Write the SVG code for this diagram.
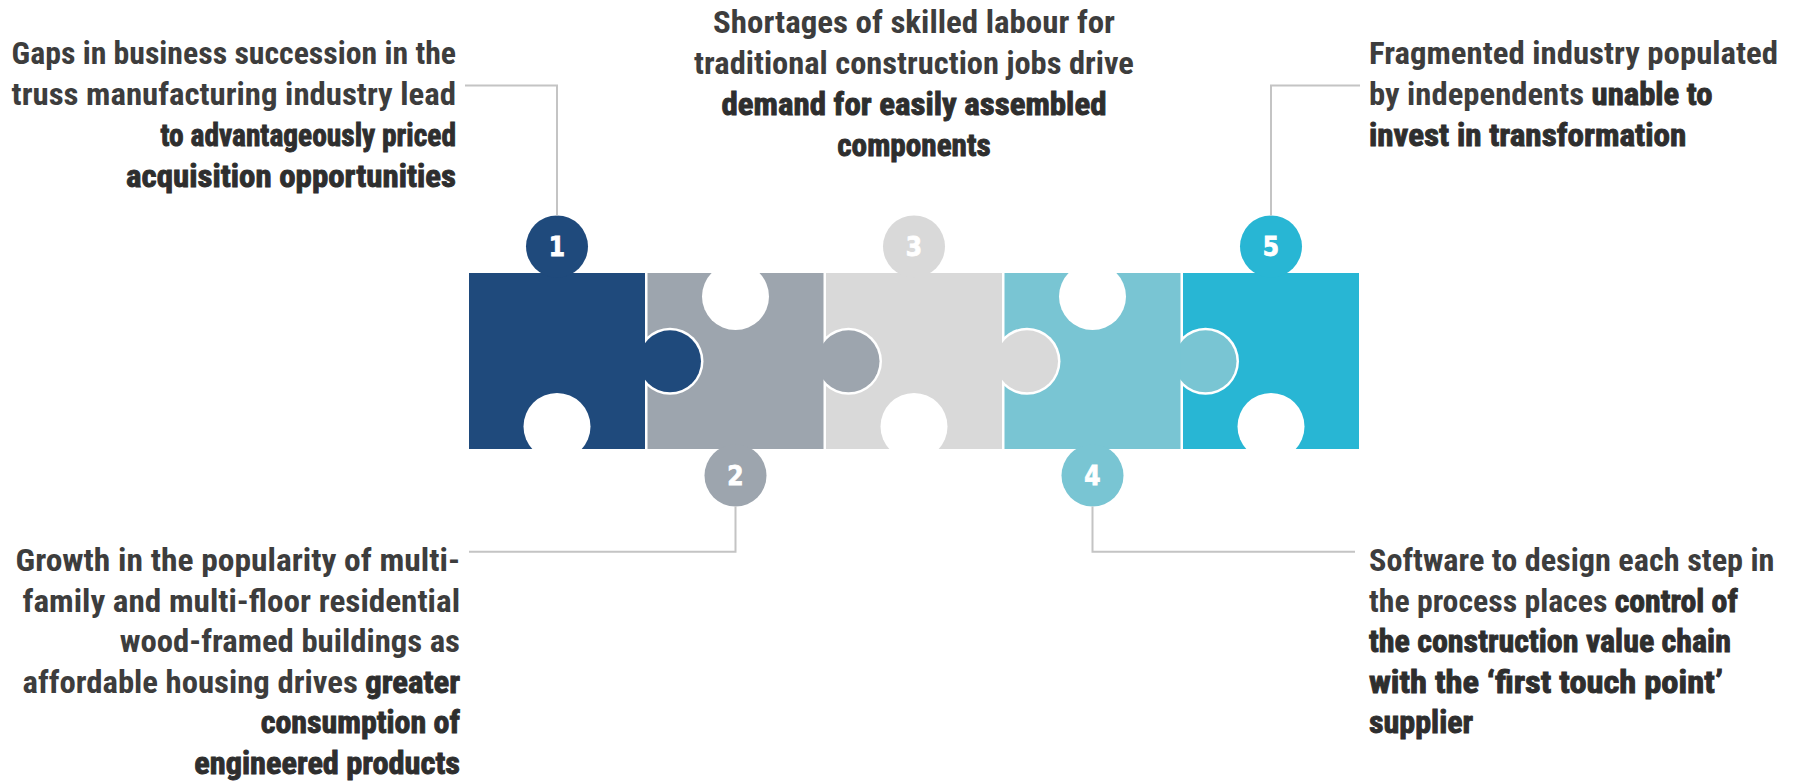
<svg xmlns="http://www.w3.org/2000/svg" width="1796" height="782" viewBox="0 0 1796 782">
  <style>
    .txt { font-family: "Liberation Sans Narrow", "Roboto Condensed", "DejaVu Sans Condensed", "Liberation Sans", sans-serif; font-weight: bold; font-size: 32px; fill: #3d3d3d; }
    .hv { fill: #2e2e2e; stroke: #2e2e2e; stroke-width: 0.9px; }
    .num { font-family: "Liberation Sans Narrow", "DejaVu Sans Condensed", "Liberation Sans", sans-serif; font-weight: bold; font-size: 26px; fill: #ffffff; stroke: #ffffff; stroke-width: 0.8px; text-anchor: middle; }
    .ring { fill: #ffffff; }
    .hole { fill: #ffffff; }
    .conn { fill: none; stroke: #c4c4c4; stroke-width: 2; }
    .c1 { fill: #1f4a7c; }
    .c2 { fill: #9da5ae; }
    .c3 { fill: #d9d9d9; }
    .c4 { fill: #79c5d3; }
    .c5 { fill: #28b6d4; }
  </style>

  <!-- pieces are drawn right to left so each right-hand tab sits on its neighbour
       and the piece's own rectangle hides the inner half of the white ring -->

  <g id="piece5">
    <rect class="c5" x="1183" y="273" width="176" height="176"/>
    <circle class="hole" cx="1271" cy="426.5" r="33.5"/>
    <circle class="c5" cx="1271" cy="246.5" r="31"/>
    <text class="num" x="1271" y="256">5</text>
    <text class="txt" x="1369" y="64" textLength="409" lengthAdjust="spacingAndGlyphs">Fragmented industry populated</text>
    <text class="txt" x="1369" y="105" textLength="343.6" lengthAdjust="spacingAndGlyphs">by independents <tspan class="hv">unable to</tspan></text>
    <text class="txt hv" x="1369" y="146" textLength="317.3" lengthAdjust="spacingAndGlyphs">invest in transformation</text>
  </g>

  <g id="piece4">
    <circle class="ring" cx="1205.5" cy="361.3" r="33.5"/>
    <circle class="c4" cx="1205.5" cy="361.3" r="31"/>
    <rect class="c4" x="1004.5" y="273" width="176" height="176"/>
    <circle class="hole" cx="1092.5" cy="296.5" r="33.5"/>
    <circle class="c4" cx="1092.5" cy="475.5" r="31"/>
    <text class="num" x="1092.5" y="485">4</text>
    <text class="txt" x="1369" y="571" textLength="405.5" lengthAdjust="spacingAndGlyphs">Software to design each step in</text>
    <text class="txt" x="1369" y="611.5" textLength="368.8" lengthAdjust="spacingAndGlyphs">the process places <tspan class="hv">control of</tspan></text>
    <text class="txt hv" x="1369" y="652" textLength="361.9" lengthAdjust="spacingAndGlyphs">the construction value chain</text>
    <text class="txt hv" x="1369" y="692.5" textLength="353.9" lengthAdjust="spacingAndGlyphs">with the ‘first touch point’</text>
    <text class="txt hv" x="1369" y="733" textLength="104.2" lengthAdjust="spacingAndGlyphs">supplier</text>
  </g>

  <g id="piece3">
    <circle class="ring" cx="1027" cy="361.3" r="33.5"/>
    <circle class="c3" cx="1027" cy="361.3" r="31"/>
    <rect class="c3" x="826" y="273" width="176" height="176"/>
    <circle class="hole" cx="914" cy="426.5" r="33.5"/>
    <circle class="c3" cx="914" cy="246.5" r="31"/>
    <text class="num" x="914" y="256">3</text>
    <text class="txt" x="914" y="33" text-anchor="middle" textLength="402" lengthAdjust="spacingAndGlyphs">Shortages of skilled labour for</text>
    <text class="txt" x="914" y="74" text-anchor="middle" textLength="439.8" lengthAdjust="spacingAndGlyphs">traditional construction jobs drive</text>
    <text class="txt hv" x="914" y="115" text-anchor="middle" textLength="384.9" lengthAdjust="spacingAndGlyphs">demand for easily assembled</text>
    <text class="txt hv" x="914" y="156" text-anchor="middle" textLength="153.5" lengthAdjust="spacingAndGlyphs">components</text>
  </g>

  <g id="piece2">
    <circle class="ring" cx="848.5" cy="361.3" r="33.5"/>
    <circle class="c2" cx="848.5" cy="361.3" r="31"/>
    <rect class="c2" x="647.5" y="273" width="176" height="176"/>
    <circle class="hole" cx="735.5" cy="296.5" r="33.5"/>
    <circle class="c2" cx="735.5" cy="475.5" r="31"/>
    <text class="num" x="735.5" y="485">2</text>
    <text class="txt" x="460" y="571" text-anchor="end" textLength="444.4" lengthAdjust="spacingAndGlyphs">Growth in the popularity of multi-</text>
    <text class="txt" x="460" y="611.5" text-anchor="end" textLength="437.5" lengthAdjust="spacingAndGlyphs">family and multi-floor residential</text>
    <text class="txt" x="460" y="652" text-anchor="end" textLength="340.2" lengthAdjust="spacingAndGlyphs">wood-framed buildings as</text>
    <text class="txt" x="460" y="692.5" text-anchor="end" textLength="437.5" lengthAdjust="spacingAndGlyphs">affordable housing drives <tspan class="hv">greater</tspan></text>
    <text class="txt hv" x="460" y="733" text-anchor="end" textLength="199.3" lengthAdjust="spacingAndGlyphs">consumption of</text>
    <text class="txt hv" x="460" y="773.5" text-anchor="end" textLength="265.7" lengthAdjust="spacingAndGlyphs">engineered products</text>
  </g>

  <g id="piece1">
    <circle class="ring" cx="670" cy="361.3" r="33.5"/>
    <circle class="c1" cx="670" cy="361.3" r="31"/>
    <rect class="c1" x="469" y="273" width="176" height="176"/>
    <circle class="hole" cx="557" cy="426.5" r="33.5"/>
    <circle class="c1" cx="557" cy="246.5" r="31"/>
    <text class="num" x="557" y="256">1</text>
    <text class="txt" x="456" y="64" text-anchor="end" textLength="444.4" lengthAdjust="spacingAndGlyphs">Gaps in business succession in the</text>
    <text class="txt" x="456" y="105" text-anchor="end" textLength="444.4" lengthAdjust="spacingAndGlyphs">truss manufacturing industry lead</text>
    <text class="txt hv" x="456" y="146" text-anchor="end" textLength="295.5" lengthAdjust="spacingAndGlyphs">to advantageously priced</text>
    <text class="txt hv" x="456" y="187" text-anchor="end" textLength="329.9" lengthAdjust="spacingAndGlyphs">acquisition opportunities</text>
  </g>

  <g id="connectors">
    <polyline class="conn" points="557,215.5 557,85.5 465,85.5"/>
    <polyline class="conn" points="1271,215.5 1271,85.5 1360,85.5"/>
    <polyline class="conn" points="735.5,506.5 735.5,551.7 469,551.7"/>
    <polyline class="conn" points="1092.5,506.5 1092.5,551.7 1355,551.7"/>
  </g>
</svg>
